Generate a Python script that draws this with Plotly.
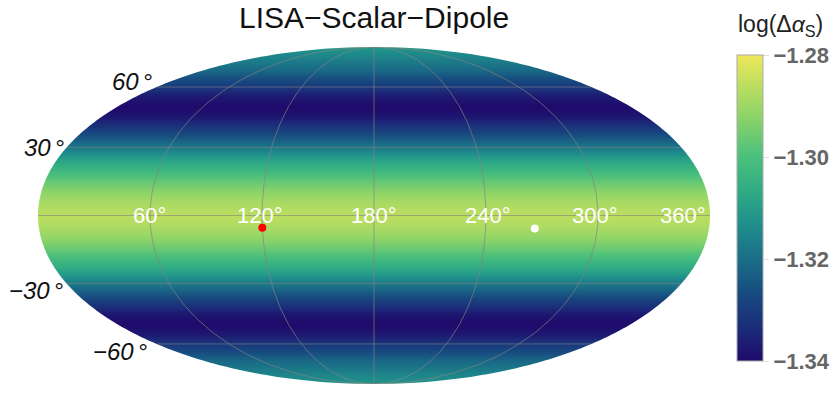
import numpy as np
import plotly.graph_objects as go

# band values, north to south
lats = [90, 85, 80, 75, 70, 65, 60, 55, 50, 45, 40, 35, 30, 25, 20, 15, 10, 5, 0,
        -5, -10, -15, -20, -25, -30, -35, -40, -45, -50, -55, -60, -65, -70, -75, -80, -85, -90]
log_da = [-1.311, -1.313, -1.315, -1.318, -1.321, -1.326, -1.331, -1.337, -1.340, -1.338, -1.332, -1.325,
          -1.318, -1.310, -1.303, -1.297, -1.292, -1.288, -1.286,
          -1.288, -1.292, -1.297, -1.303, -1.310, -1.318, -1.325, -1.332, -1.338, -1.340, -1.337, -1.331,
          -1.326, -1.321, -1.318, -1.315, -1.313, -1.311]
lon_ends = [0, 360]

grid_lons = [60, 120, 180, 240, 300]
grid_lats = [-60, -30, 0, 30, 60]
lon_labels = [60, 120, 180, 240, 300, 360]
lat_labels = [60, 30, -30, -60]

source_lon = [120, 266.4]
source_lat = [-5.3, -5.6]
source_colors = ['red', 'white']

cbar_ticks = [-1.28, -1.30, -1.32, -1.34]

colors = [[0.0, '#1f0a6b'], [0.1, '#1c2a78'], [0.2, '#17457f'], [0.33, '#1a6d87'], [0.45, '#1f8f8b'],
          [0.55, '#2eaa84'], [0.67, '#4cc07c'], [0.8, '#8dd468'], [0.9, '#bcde60'], [1.0, '#efe75a']]

W, H = 830, 400
L, T, R, B = 38, 47, 710, 384


def moll_theta(lat):
    """auxiliary angle of the mollweide projection"""
    phi = np.radians(np.asarray(lat, dtype=float))
    theta = phi * 0.8
    for i in range(60):
        theta = theta - (2 * theta + np.sin(2 * theta) - np.pi * np.sin(phi)) / (2 + 2 * np.cos(2 * theta) + 1e-9)
    return np.clip(theta, -np.pi / 2, np.pi / 2)


def moll(lon, lat):
    theta = moll_theta(lat)
    return 180 + (np.asarray(lon, dtype=float) - 180) * np.cos(theta), np.sin(theta)


fig = go.Figure()

fig.add_trace(go.Heatmap(
    x=lon_ends,
    y=moll(180, lats)[1],
    z=[[v, v] for v in log_da],
    zmin=-1.34,
    zmax=-1.28,
    zsmooth='best',
    colorscale=colors,
    hoverinfo='skip',
    colorbar=dict(
        x=(737 - L) / (R - L), y=(B - 361) / (B - T),
        xanchor='left', yanchor='bottom',
        xpad=0, ypad=0,
        thickness=26, thicknessmode='pixels',
        len=306, lenmode='pixels',
        outlinecolor='#aaaaaa', outlinewidth=1,
        tickvals=cbar_ticks,
        ticktext=['−1.28', '−1.30', '−1.32', '−1.34'],
        ticks='outside', ticklen=6, tickcolor='#e0e0e0', tickwidth=1,
        tickfont=dict(family='Liberation Sans', size=22, color='#666666', weight='bold'),
    ),
))

# white mask around the ellipse
edge_lat = np.linspace(90, -90, 241)
ex, ey = moll(0, edge_lat)
ex2, ey2 = moll(360, edge_lat[::-1])
ell = ' '.join(f'{"M" if i == 0 else "L"}{a:.3f},{b:.4f}' for i, (a, b) in
               enumerate(zip(np.r_[ex, ex2], np.r_[ey, ey2])))
mask = f'M-5,-1.05 L365,-1.05 L365,1.05 L-5,1.05 Z {ell} Z'
fig.add_shape(type='path', path=mask, fillcolor='white', line_width=0, layer='above')

# graticule
line_lat = np.linspace(-90, 90, 181)
for lon in grid_lons:
    x, y = moll(lon, line_lat)
    fig.add_trace(go.Scatter(x=x, y=y, mode='lines', line=dict(color='rgba(130,130,130,0.85)', width=0.8),
                             hoverinfo='skip', showlegend=False))
for lat in grid_lats:
    x, y = moll(np.array(lon_ends), [lat, lat])
    fig.add_trace(go.Scatter(x=x, y=y, mode='lines', line=dict(color='rgba(130,130,130,0.6)', width=1),
                             hoverinfo='skip', showlegend=False))

# sources
sx, sy = moll(source_lon, source_lat)
fig.add_trace(go.Scatter(x=sx, y=sy, mode='markers', marker=dict(size=8, color=source_colors),
                         hoverinfo='skip', showlegend=False))

# longitude labels sit on the equator
lon_shift = {60: -1, 120: -2, 180: 0, 240: 2, 300: -3, 360: -27}
for lon in lon_labels:
    fig.add_annotation(x=lon, y=0, text=f'{lon}°', showarrow=False, xanchor='center', yanchor='middle',
                       xshift=lon_shift[lon],
                       font=dict(family='Liberation Sans', size=22, color='white'))

lat_shift = {60: (-24, 6), 30: (-22, 0), -30: (-30, -7), -60: (-36, -8)}
for lat in lat_labels:
    x, y = moll(0, lat)
    dx, dy = lat_shift[lat]
    txt = f'{lat}'.replace('-', '−')
    fig.add_annotation(x=float(x), y=float(y), text=f"<i>{txt}<span style='font-size:14px'> </span>°</i>",
                       showarrow=False, xanchor='center', yanchor='middle', xshift=dx, yshift=dy,
                       font=dict(family='Liberation Sans', size=24, color='#111111'))

fig.add_annotation(xref='paper', yref='paper', x=0.5, y=(B - 17) / (B - T), text='LISA−Scalar−Dipole', showarrow=False,
                   font=dict(family='Liberation Sans', size=30, color='#111111'), yanchor='middle')
fig.add_annotation(xref='paper', yref='paper', x=(780 - L) / (R - L), y=(B - 26) / (B - T),
                   text='log(Δ<i>α</i><sub>S</sub>)', showarrow=False, xanchor='center', yanchor='middle',
                   font=dict(family='Liberation Sans', size=23, color='#222222'))

fig.update_xaxes(range=[0, 360], visible=False, fixedrange=True)
fig.update_yaxes(range=[-1, 1], visible=False, fixedrange=True)
fig.update_layout(
    width=W, height=H, autosize=False,
    margin=dict(l=L, r=W - R, t=T, b=H - B, autoexpand=False),
    paper_bgcolor='white', plot_bgcolor='white',
    showlegend=False,
)

# drop the default page margin so the figure fills the window
fig.write_html("out.html", config=dict(displayModeBar=False), post_script="document.body.style.margin = '0';")
